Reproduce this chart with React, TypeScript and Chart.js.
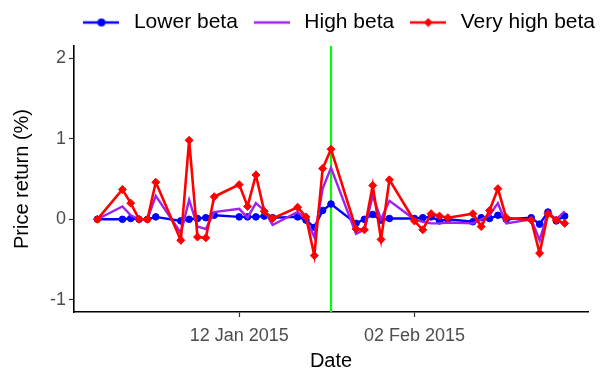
import React, { useEffect, useRef } from 'react';
import { Chart, registerables } from 'chart.js';

Chart.register(...registerables);

// ---- data ----
const DATES = [
  '2014-12-26', '2014-12-29', '2014-12-30', '2014-12-31', '2015-01-01', '2015-01-02',
  '2015-01-05', '2015-01-06', '2015-01-07', '2015-01-08', '2015-01-09',
  '2015-01-12', '2015-01-13', '2015-01-14', '2015-01-15', '2015-01-16',
  '2015-01-19', '2015-01-20', '2015-01-21', '2015-01-22', '2015-01-23',
  '2015-01-26', '2015-01-27', '2015-01-28', '2015-01-29', '2015-01-30',
  '2015-02-02', '2015-02-03', '2015-02-04', '2015-02-05', '2015-02-06',
  '2015-02-09', '2015-02-10', '2015-02-11', '2015-02-12', '2015-02-13',
  '2015-02-16', '2015-02-17', '2015-02-18', '2015-02-19', '2015-02-20',
];

const LOWER_BETA = [
  0.0, 0.0, 0.01, 0.0, 0.0, 0.03,
  -0.02, 0.0, 0.01, 0.02, 0.05,
  0.03, 0.03, 0.03, 0.04, 0.02,
  0.03, -0.01, -0.1, 0.11, 0.19,
  -0.05, 0.0, 0.06, -0.01, 0.01,
  0.01, 0.02, 0.03, -0.02, 0.0,
  -0.03, 0.02, 0.01, 0.05, 0.0,
  0.02, -0.06, 0.09, -0.02, 0.04,
];

const HIGH_BETA = [
  0.0, 0.16, 0.05, 0.0, 0.0, 0.29,
  -0.17, 0.24, -0.09, -0.12, 0.09,
  0.13, 0.02, 0.2, 0.11, -0.07,
  0.09, 0.0, -0.22, 0.38, 0.64,
  -0.18, -0.13, 0.29, 0.0, 0.23,
  0.0, -0.03, -0.05, -0.05, -0.04,
  -0.05, 0.0, 0.05, 0.2, -0.05,
  0.0, -0.26, 0.09, 0.0, 0.1,
];

const VERY_HIGH_BETA = [
  0.0, 0.37, 0.2, 0.0, 0.0, 0.46,
  -0.26, 0.98, -0.22, -0.23, 0.28,
  0.43, 0.16, 0.55, 0.1, 0.01,
  0.15, 0.03, -0.45, 0.63, 0.87,
  -0.12, -0.13, 0.42, -0.25, 0.49,
  -0.02, -0.13, 0.07, 0.04, 0.02,
  0.07, -0.09, 0.11, 0.38, 0.02,
  -0.01, -0.42, 0.07, -0.01, -0.05,
];

const SERIES_LABELS = ['Lower beta', 'High beta', 'Very high beta'];
const SERIES_COLORS = ['#0000FF', '#A020F0', '#FF0000'];
const EVENT_DATE = '2015-01-23';
const EVENT_COLOR = '#00FF00';
const X_TICK_DATES = ['2015-01-12', '2015-02-02'];
const Y_TICKS = [-1, 0, 1, 2];
const Y_LIMITS = [-1, 2];
const MONTHS = ['Jan', 'Feb', 'Mar', 'Apr', 'May', 'Jun', 'Jul', 'Aug', 'Sep', 'Oct', 'Nov', 'Dec'];

const FONT = "'Liberation Sans', Arial, Helvetica, sans-serif";

const dayNum = (s: string) => {
  const [y, m, d] = s.split('-').map(Number);
  return Date.UTC(y, m - 1, d) / 86400000;
};
const fmtDate = (n: number) => {
  const dt = new Date(Math.round(n) * 86400000);
  return `${String(dt.getUTCDate()).padStart(2, '0')} ${MONTHS[dt.getUTCMonth()]} ${dt.getUTCFullYear()}`;
};

function keyImage(color: string, marker: 'circle' | 'diamond' | null) {
  const c = document.createElement('canvas');
  c.width = 36;
  c.height = 14;
  const ctx = c.getContext('2d')!;
  ctx.strokeStyle = color;
  ctx.fillStyle = color;
  ctx.lineWidth = 2.4;
  ctx.beginPath();
  ctx.moveTo(0, 7);
  ctx.lineTo(36, 7);
  ctx.stroke();
  if (marker === 'circle') {
    ctx.beginPath();
    ctx.arc(18, 7, 4, 0, Math.PI * 2);
    ctx.fill();
  } else if (marker === 'diamond') {
    ctx.beginPath();
    ctx.moveTo(18, 2.5);
    ctx.lineTo(22.5, 7);
    ctx.lineTo(18, 11.5);
    ctx.lineTo(13.5, 7);
    ctx.closePath();
    ctx.fill();
  }
  return c;
}

const LEGEND_HEIGHT = 46;

const legendHeightPlugin = {
  id: 'legendHeight',
  beforeUpdate(chart: any) {
    const lg = chart.legend;
    if (lg && !lg._patchedFit) {
      const orig = lg.fit.bind(lg);
      lg.fit = function () {
        orig();
        this.height = LEGEND_HEIGHT;
      };
      lg._patchedFit = true;
    }
  },
};

export default function App() {
  const canvasRef = useRef<HTMLCanvasElement | null>(null);

  useEffect(() => {
    const canvas = canvasRef.current;
    if (!canvas) return;

    const xs = DATES.map(dayNum);
    const xSpan = xs[xs.length - 1] - xs[0];
    const xMin = xs[0] - 0.05 * xSpan;
    const xMax = xs[xs.length - 1] + 0.05 * xSpan;
    const ySpan = Y_LIMITS[1] - Y_LIMITS[0];
    const yMin = Y_LIMITS[0] - 0.05 * ySpan;
    const yMax = Y_LIMITS[1] + 0.05 * ySpan;
    const ev = dayNum(EVENT_DATE);

    const toPts = (arr: number[]) => arr.map((v, i) => ({ x: xs[i], y: v }));
    const keyImgs = [
      keyImage(SERIES_COLORS[0], 'circle'),
      keyImage(SERIES_COLORS[1], null),
      keyImage(SERIES_COLORS[2], 'diamond'),
    ];

    const chart = new Chart(canvas, {
      type: 'line',
      data: {
        datasets: [
          {
            label: SERIES_LABELS[0],
            data: toPts(LOWER_BETA),
            borderColor: SERIES_COLORS[0],
            backgroundColor: SERIES_COLORS[0],
            borderWidth: 2.4,
            pointStyle: 'circle',
            pointRadius: 3.3,
            pointBorderWidth: 1,
            pointBackgroundColor: SERIES_COLORS[0],
            pointBorderColor: SERIES_COLORS[0],
            tension: 0,
            order: 3,
          },
          {
            label: SERIES_LABELS[1],
            data: toPts(HIGH_BETA),
            borderColor: SERIES_COLORS[1],
            backgroundColor: SERIES_COLORS[1],
            borderWidth: 2.4,
            pointRadius: 0,
            tension: 0,
            order: 2,
          },
          {
            label: SERIES_LABELS[2],
            data: toPts(VERY_HIGH_BETA),
            borderColor: SERIES_COLORS[2],
            backgroundColor: SERIES_COLORS[2],
            borderWidth: 2.6,
            pointStyle: 'rectRot',
            pointRadius: 4,
            pointBorderWidth: 1,
            pointBackgroundColor: SERIES_COLORS[2],
            pointBorderColor: SERIES_COLORS[2],
            tension: 0,
            order: 1,
          },
          {
            label: 'event',
            data: [{ x: ev, y: yMin }, { x: ev, y: yMax }],
            borderColor: EVENT_COLOR,
            backgroundColor: EVENT_COLOR,
            borderWidth: 2.2,
            pointRadius: 0,
            tension: 0,
            order: 4,
          },
        ],
      },
      options: {
        animation: false,
        responsive: false,
        events: [],
        layout: { padding: { left: 4, right: 6, top: 0, bottom: 0 } },
        plugins: {
          tooltip: { enabled: false },
          legend: {
            position: 'top',
            align: 'end',
            labels: {
              usePointStyle: true,
              pointStyleWidth: 44,
              padding: 12,
              color: '#000000',
              font: { size: 21, family: FONT },
              generateLabels: () =>
                SERIES_LABELS.map((t, i) => ({
                  text: t,
                  pointStyle: keyImgs[i] as any,
                  fillStyle: SERIES_COLORS[i],
                  strokeStyle: SERIES_COLORS[i],
                  lineWidth: 0,
                  hidden: false,
                  datasetIndex: i,
                })),
            },
          },
        },
        scales: {
          x: {
            type: 'linear',
            position: 'bottom',
            min: xMin,
            max: xMax,
            afterBuildTicks: (s: any) => {
              s.ticks = X_TICK_DATES.map((d) => ({ value: dayNum(d) }));
            },
            afterFit: (s: any) => {
              s.height = 63;
            },
            ticks: {
              callback: (v: any) => fmtDate(Number(v)),
              color: '#4D4D4D',
              font: { size: 18, family: FONT },
              padding: 8,
              maxRotation: 0,
              autoSkip: false,
            },
            grid: {
              display: true,
              drawOnChartArea: false,
              drawTicks: true,
              tickLength: 5,
              tickColor: '#333333',
              tickWidth: 1.2,
            },
            border: { display: true, color: '#000000', width: 1.6 },
            title: {
              display: true,
              text: 'Date',
              color: '#000000',
              font: { size: 20, family: FONT },
              padding: { top: 0, bottom: 2 },
            },
          },
          y: {
            type: 'linear',
            position: 'left',
            min: yMin,
            max: yMax,
            afterBuildTicks: (s: any) => {
              s.ticks = Y_TICKS.map((v) => ({ value: v }));
            },
            afterFit: (s: any) => {
              s.width = 70;
            },
            ticks: {
              callback: (v: any) => String(v),
              color: '#4D4D4D',
              font: { size: 18, family: FONT },
              padding: 3,
            },
            grid: {
              display: true,
              drawOnChartArea: false,
              drawTicks: true,
              tickLength: 5,
              tickColor: '#333333',
              tickWidth: 1.2,
            },
            border: { display: true, color: '#000000', width: 1.6 },
            title: {
              display: true,
              text: 'Price return (%)',
              color: '#000000',
              font: { size: 20, family: FONT },
              padding: { top: 6, bottom: 0 },
            },
          },
          yr: {
            type: 'linear',
            position: 'right',
            display: true,
            grid: { display: false, drawTicks: false },
            ticks: { display: false },
            border: { display: false },
            afterFit: (s: any) => {
              s.width = 19;
            },
          },
        },
      } as any,
      plugins: [legendHeightPlugin],
    });

    return () => chart.destroy();
  }, []);

  return (
    <div style={{ position: 'fixed', left: 0, top: 0, width: 613, height: 375, background: '#ffffff' }}>
      <canvas ref={canvasRef} width={613} height={375} style={{ display: 'block', width: 613, height: 375 }} />
    </div>
  );
}
